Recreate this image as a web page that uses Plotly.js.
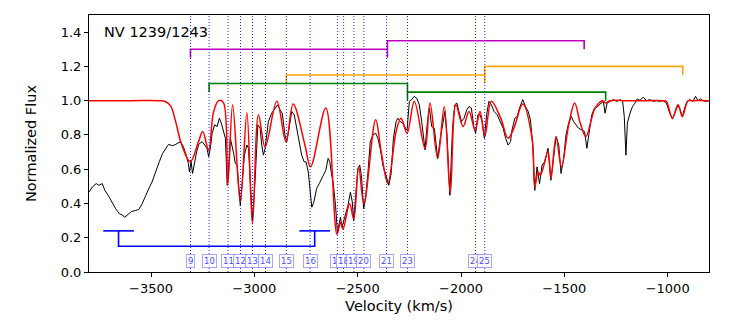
<!DOCTYPE html>
<html>
<head>
<meta charset="utf-8">
<script src="https://cdn.plot.ly/plotly-3.0.1.min.js"></script>
<style>
  body { margin: 0; padding: 0; background: #fff; }
  #chart { width: 747px; height: 320px; }
</style>
</head>
<body>
<div id="chart"></div>
<script>
// Observed spectrum (black), velocity in km/s and normalized flux
const specV = [-3800, -3784, -3765, -3752, -3736, -3723, -3707, -3691, -3671, -3652, -3640, -3627, -3611, -3594, -3575, -3559,
  -3543, -3527, -3511, -3495, -3479, -3460, -3444, -3428, -3415, -3396, -3380, -3358, -3343, -3330, -3319, -3314,
  -3306, -3299, -3290, -3279, -3269, -3253, -3240, -3229, -3221, -3213, -3204, -3192, -3180, -3169, -3160, -3149,
  -3140, -3131, -3125, -3116, -3108, -3100, -3092, -3083, -3068, -3060, -3048, -3036, -3028, -3009, -2996, -2983,
  -2972, -2964, -2956, -2948, -2932, -2916, -2900, -2887, -2876, -2865, -2852, -2843, -2832, -2819, -2807, -2795,
  -2784, -2771, -2759, -2750, -2739, -2731, -2722, -2712, -2699, -2686, -2675, -2664, -2654, -2643, -2635, -2627,
  -2619, -2607, -2598, -2590, -2583, -2576, -2567, -2558, -2547, -2535, -2526, -2519, -2510, -2499, -2490, -2482,
  -2471, -2462, -2450, -2439, -2426, -2413, -2402, -2391, -2378, -2365, -2349, -2338, -2327, -2314, -2306, -2294,
  -2282, -2269, -2261, -2250, -2239, -2226, -2213, -2202, -2190, -2174, -2164, -2153, -2142, -2129, -2113, -2100,
  -2089, -2078, -2068, -2054, -2041, -2030, -2020, -2009, -1998, -1985, -1972, -1961, -1950, -1937, -1929, -1918,
  -1908, -1897, -1887, -1876, -1865, -1853, -1840, -1825, -1808, -1796, -1784, -1772, -1760, -1755, -1739, -1728,
  -1717, -1701, -1688, -1675, -1664, -1653, -1643, -1632, -1620, -1608, -1595, -1579, -1565, -1552, -1540, -1527,
  -1516, -1503, -1492, -1479, -1466, -1455, -1442, -1431, -1415, -1402, -1391, -1380, -1367, -1354, -1338, -1322,
  -1311, -1303, -1293, -1279, -1263, -1247, -1230, -1218, -1210, -1202, -1195, -1182, -1170, -1158, -1147, -1134,
  -1118, -1102, -1086, -1070, -1054, -1038, -1022, -1006, -993, -977, -961, -950, -939, -929, -918, -906,
  -893, -878, -865, -853, -842, -829, -813, -800];
const specFlux = [0.466, 0.496, 0.516, 0.506, 0.516, 0.476, 0.447, 0.408, 0.369, 0.339, 0.333, 0.320, 0.339, 0.353, 0.359, 0.365,
  0.398, 0.447, 0.486, 0.525, 0.584, 0.643, 0.692, 0.725, 0.745, 0.737, 0.745, 0.761, 0.731, 0.682, 0.633, 0.584,
  0.643, 0.575, 0.643, 0.702, 0.745, 0.761, 0.741, 0.722, 0.673, 0.722, 0.810, 0.859, 0.849, 0.898, 0.869, 0.820,
  0.780, 0.506, 0.584, 0.780, 0.741, 0.692, 0.633, 0.624, 0.388, 0.525, 0.682, 0.741, 0.722, 0.300, 0.545, 0.859,
  0.839, 0.741, 0.682, 0.722, 0.878, 0.927, 0.957, 0.976, 0.947, 0.927, 0.800, 0.760, 0.839, 0.937, 0.918, 0.839,
  0.761, 0.682, 0.643, 0.643, 0.584, 0.486, 0.378, 0.408, 0.486, 0.516, 0.545, 0.565, 0.594, 0.663, 0.643, 0.575,
  0.525, 0.388, 0.231, 0.280, 0.320, 0.261, 0.300, 0.329, 0.388, 0.466, 0.408, 0.300, 0.447, 0.604, 0.624, 0.565,
  0.369, 0.427, 0.584, 0.761, 0.800, 0.810, 0.780, 0.722, 0.624, 0.565, 0.506, 0.575, 0.780, 0.878, 0.898, 0.878,
  0.869, 0.839, 0.829, 0.996, 1.006, 1.025, 1.012, 0.976, 0.878, 0.712, 0.859, 0.957, 0.849, 0.839, 0.663, 0.780,
  0.859, 0.937, 0.800, 0.447, 0.839, 0.976, 0.986, 0.937, 0.878, 0.898, 0.947, 0.966, 0.957, 0.839, 0.810, 0.918,
  0.918, 0.878, 0.780, 0.918, 0.996, 0.976, 0.937, 0.918, 0.869, 0.839, 0.780, 0.741, 0.761, 0.820, 0.898, 0.908,
  0.957, 1.006, 0.966, 0.937, 0.888, 0.741, 0.476, 0.614, 0.516, 0.624, 0.643, 0.722, 0.535, 0.682, 0.790, 0.741,
  0.575, 0.663, 0.800, 0.869, 0.908, 0.878, 0.859, 0.839, 0.829, 0.820, 0.722, 0.810, 0.918, 0.957, 0.966, 0.986,
  0.996, 0.927, 0.986, 0.996, 1.006, 0.996, 1.006, 0.996, 0.908, 0.682, 0.869, 0.927, 0.966, 0.986, 1.010, 1.002,
  1.020, 1.000, 1.006, 0.996, 1.000, 0.996, 1.000, 0.986, 0.937, 0.892, 0.947, 0.976, 0.947, 0.904, 0.957, 0.996,
  1.006, 0.996, 1.025, 1.000, 1.010, 1.000, 0.996, 1.000];

// Fitted model (red)
const modelV = [-3800, -3600, -3460, -3431, -3405, -3383, -3351, -3310, -3270, -3250, -3221, -3198, -3173, -3150, -3129, -3105,
  -3068, -3036, -3009, -2980, -2948, -2891, -2847, -2812, -2755, -2728, -2654, -2600, -2583, -2571, -2539, -2519,
  -2495, -2470, -2413, -2386, -2354, -2314, -2290, -2261, -2226, -2174, -2150, -2113, -2081, -2052, -2025, -1990,
  -1961, -1932, -1908, -1885, -1853, -1808, -1772, -1744, -1701, -1656, -1643, -1627, -1616, -1579, -1565, -1540,
  -1514, -1479, -1450, -1423, -1396, -1351, -1314, -1300, -1279, -1200, -1100, -1020, -1006, -977, -950, -929,
  -902, -880, -800];
const modelFlux = [1.0, 1.0, 1.0, 0.995, 0.97, 0.888, 0.741, 0.643, 0.761, 0.82, 0.71, 0.93, 1.0, 0.99, 0.506, 0.976,
  0.408, 0.93, 0.28, 0.918, 0.73, 0.996, 0.76, 0.98, 0.74, 0.614, 0.957, 0.22, 0.29, 0.25, 0.398, 0.31,
  0.614, 0.398, 0.888, 0.70, 0.516, 0.82, 0.898, 0.81, 0.996, 0.72, 0.986, 0.663, 0.966, 0.457, 0.976, 0.849,
  0.937, 0.829, 0.937, 0.79, 0.996, 0.898, 0.78, 0.84, 0.98, 0.78, 0.496, 0.584, 0.565, 0.70, 0.545, 0.79,
  0.614, 0.859, 0.986, 0.869, 0.79, 0.957, 1.0, 0.986, 1.0, 1.0, 1.0, 1.0, 0.995, 0.898, 0.976, 0.908,
  0.998, 1.0, 1.0];

// Absorption components
const compV = [-3309, -3219, -3127, -3067, -3009, -2946, -2845, -2730, -2598, -2568, -2518, -2470, -2360, -2259, -1930, -1885];
const compLabels = ['9', '10', '11', '12', '13', '14', '15', '16', '17', '18', '19', '20', '21', '23', '24', '25'];

// Doublet brackets: start, end, level
const magentaStart = [-3309, -2356];
const magentaEnd = [-2356, -1404];
const magentaLevel = [1.30, 1.35];
const orangeStart = [-2845, -1885];
const orangeEnd = [-1885, -927];
const orangeLevel = [1.15, 1.20];
const greenStart = [-3219, -2259];
const greenEnd = [-2259, -1300];
const greenLevel = [1.10, 1.05];
const blueCenter = [-3657, -2708];
const blueTop = 0.24;
const blueBottom = 0.15;

const tickLen = 0.05;
const halfBar = 74;

function bracketTrace(starts, ends, levels, color) {
  const x = [], y = [];
  for (let i = 0; i < starts.length; i++) {
    x.push(starts[i], starts[i], ends[i], ends[i], null);
    y.push(levels[i] - tickLen, levels[i], levels[i], levels[i] - tickLen, null);
  }
  return {x: x, y: y, type: 'scatter', mode: 'lines', line: {color: color, width: 1.6},
    hoverinfo: 'skip', showlegend: false};
}

// blue bracket under the broad trough
const bx = [], by = [];
blueCenter.forEach(function(c) {
  bx.push(c - halfBar, c + halfBar, null);
  by.push(blueTop, blueTop, null);
});
bx.push(blueCenter[0], blueCenter[0], blueCenter[1], blueCenter[1]);
by.push(blueTop, blueBottom, blueBottom, blueTop);

const data = [
  {x: specV, y: specFlux, type: 'scatter', mode: 'lines', line: {color: 'black', width: 1}, showlegend: false},
  {x: modelV, y: modelFlux, type: 'scatter', mode: 'lines', line: {color: 'red', width: 1.5, shape: 'spline', smoothing: 1},
    showlegend: false},
  bracketTrace(magentaStart, magentaEnd, magentaLevel, '#bf00bf'),
  bracketTrace(orangeStart, orangeEnd, orangeLevel, '#ffa500'),
  bracketTrace(greenStart, greenEnd, greenLevel, '#008000'),
  {x: bx, y: by, type: 'scatter', mode: 'lines', line: {color: '#0000ff', width: 1.6}, showlegend: false}
];

// dotted markers for each component
const shapes = compV.map(function(v) {
  return {type: 'line', xref: 'x', yref: 'paper', x0: v, x1: v, y0: 0, y1: 1, layer: 'above',
    line: {color: 'rgba(0,0,255,0.85)', width: 1, dash: '1px,2px'}};
});

const annotations = compV.map(function(v, i) {
  return {x: v, y: 0.065, xref: 'x', yref: 'y', text: compLabels[i], showarrow: false,
    font: {family: 'DejaVu Sans', size: 8.5, color: 'rgba(0,0,255,0.75)'},
    bgcolor: 'rgba(255,255,255,0.85)', bordercolor: 'rgba(110,110,255,0.6)', borderwidth: 1, borderpad: 1};
});
annotations.push({x: 0.021, y: 0.935, xref: 'paper', yref: 'paper', xanchor: 'left', yanchor: 'middle',
  text: 'NV 1239/1243', showarrow: false, font: {family: 'DejaVu Sans', size: 14.5, color: 'black'}});

const layout = {
  width: 747,
  height: 320,
  margin: {l: 89, r: 38, t: 15, b: 48},
  paper_bgcolor: 'white',
  plot_bgcolor: 'white',
  font: {family: 'DejaVu Sans', size: 13, color: 'black'},
  xaxis: {
    range: [-3800, -800],
    dtick: 500,
    tick0: 0,
    ticks: 'outside', ticklen: 4, tickwidth: 1, tickcolor: 'black',
    showline: true, linecolor: 'black', linewidth: 1, mirror: true,
    showgrid: false, zeroline: false,
    title: {text: 'Velocity (km/s)', font: {size: 14.5}, standoff: 6}
  },
  yaxis: {
    range: [0, 1.5],
    dtick: 0.2,
    tick0: 0,
    tickformat: '.1f',
    ticks: 'outside', ticklen: 4, tickwidth: 1, tickcolor: 'black',
    showline: true, linecolor: 'black', linewidth: 1, mirror: true,
    showgrid: false, zeroline: false,
    title: {text: 'Normalized Flux', font: {size: 14.5}, standoff: 20}
  },
  shapes: shapes,
  annotations: annotations
};

Plotly.newPlot('chart', data, layout, {displayModeBar: false, staticPlot: true});
</script>
</body>
</html>
